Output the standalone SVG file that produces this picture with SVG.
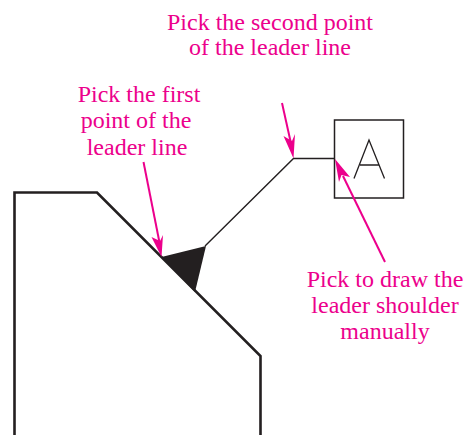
<svg xmlns="http://www.w3.org/2000/svg" width="473" height="435" viewBox="0 0 473 435">
<style>
.lbl{font-family:"Liberation Serif","DejaVu Serif",serif;font-size:24px;fill:#ec008c;text-anchor:middle}
.blk{fill:none;stroke:#231f20;stroke-linejoin:miter}
.mag{fill:none;stroke:#ec008c;stroke-width:2}
.head{fill:#ec008c}
</style>
<rect width="473" height="435" fill="#fff"/>
<g id="part"><path class="blk" stroke-width="2.6" d="M14.500 435V192.500H97L260.500 356V435"/></g>
<g id="symbol-box"><rect class="blk" stroke-width="1.500" x="334.500" y="120" width="69" height="78"/>
<path class="blk" stroke-width="1.300" d="M354 178.500L369 140L384.500 178.500M360 165H379"/></g>
<g id="connectors">
<path fill="#231f20" d="M161.500 257L206 246L195 292Z"/>
<path class="blk" stroke-width="1.400" d="M205 246L293.500 158.500H334"/>
<path class="mag" d="M143.500 162L160 245"/><path class="head" d="M161.500 257L151.500 237L160 241L163 235Z"/>
<path class="mag" d="M282 103L292 148"/><path class="head" d="M293.500 158.500L283.500 136L292 141L295 134Z"/>
<path class="mag" d="M385 262L343 176"/><path class="head" d="M335 159L350 177L341.500 175L339 182Z"/>
</g>
<g id="label-second"><text class="lbl" x="270" y="30">Pick the second point</text><text class="lbl" x="270" y="55">of the leader line</text></g>
<g id="label-first"><text class="lbl" x="139" y="102">Pick the first</text><text class="lbl" x="136" y="128">point of the</text><text class="lbl" x="137" y="155">leader line</text></g>
<g id="label-shoulder"><text class="lbl" x="385" y="287">Pick to draw the</text><text class="lbl" x="385" y="313">leader shoulder</text><text class="lbl" x="385" y="339">manually</text></g>
</svg>
